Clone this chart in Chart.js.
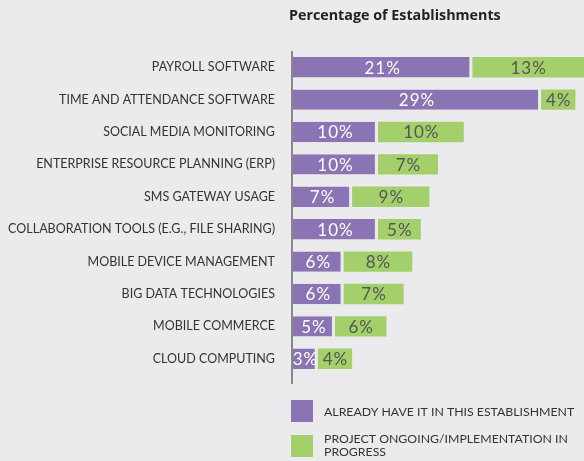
<!DOCTYPE html>
<html>
<head>
<meta charset="utf-8">
<script src="https://cdn.jsdelivr.net/npm/chart.js@4/dist/chart.umd.min.js"></script>
<style>
  html, body { margin: 0; padding: 0; background: #ebebed; }
  #wrap { width: 584px; height: 461px; position: relative; }
</style>
</head>
<body>
<div id="wrap"><canvas id="c" width="584" height="461"></canvas></div>
<script>
const categories = [
  "PAYROLL SOFTWARE",
  "TIME AND ATTENDANCE SOFTWARE",
  "SOCIAL MEDIA MONITORING",
  "ENTERPRISE RESOURCE PLANNING (ERP)",
  "SMS GATEWAY USAGE",
  "COLLABORATION TOOLS (E.G., FILE SHARING)",
  "MOBILE DEVICE MANAGEMENT",
  "BIG DATA TECHNOLOGIES",
  "MOBILE COMMERCE",
  "CLOUD COMPUTING"
];
const alreadyHave = [21, 29, 10, 10, 7, 10, 6, 6, 5, 3];
const inProgress = [13, 4, 10, 7, 9, 5, 8, 7, 6, 4];
const seriesNames = ["ALREADY HAVE IT IN THIS ESTABLISHMENT", "PROJECT ONGOING/IMPLEMENTATION IN PROGRESS"];
const legendLines = [["ALREADY HAVE IT IN THIS ESTABLISHMENT"], ["PROJECT ONGOING/IMPLEMENTATION IN", "PROGRESS"]];
const titleText = "Percentage of Establishments";

const BG = "#ebebed";
const PURPLE = "#8a74b3";
const GREEN = "#a3d06b";

const bgPlugin = {
  id: "bg",
  beforeDraw(chart) {
    const ctx = chart.ctx;
    ctx.save();
    ctx.fillStyle = BG;
    ctx.fillRect(0, 0, chart.width, chart.height);
    ctx.restore();
  }
};

const axisLinePlugin = {
  id: "axisLine",
  afterDatasetsDraw(chart) {
    const ctx = chart.ctx;
    const x = chart.chartArea.left;
    ctx.save();
    ctx.strokeStyle = "#888888";
    ctx.lineWidth = 2;
    ctx.beginPath();
    ctx.moveTo(x, chart.chartArea.top);
    ctx.lineTo(x, chart.chartArea.bottom + 9);
    ctx.stroke();
    ctx.restore();
  }
};

const labelPlugin = {
  id: "vals",
  afterDatasetsDraw(chart) {
    const ctx = chart.ctx;
    ctx.save();
    ctx.font = "17px Lato";
    try { ctx.letterSpacing = "1px"; } catch (e) {}
    ctx.textAlign = "center";
    ctx.textBaseline = "middle";
    chart.data.datasets.forEach((ds, di) => {
      const meta = chart.getDatasetMeta(di);
      meta.data.forEach((el, i) => {
        const left = Math.min(el.x, el.base);
        const right = Math.max(el.x, el.base);
        const cx = (left + right) / 2 + 0.5;
        ctx.fillStyle = di === 0 ? "#ffffff" : "#555555";
        ctx.fillText(ds.data[i] + "%", cx, el.y + 1);
      });
    });
    ctx.restore();
  }
};

const titleLegendPlugin = {
  id: "titleLegend",
  afterDraw(chart) {
    const ctx = chart.ctx;
    const left = chart.chartArea.left;
    ctx.save();
    ctx.fillStyle = "#222222";
    ctx.font = "bold 14.3px 'Open Sans'";
    ctx.textAlign = "left";
    ctx.textBaseline = "middle";
    ctx.fillText(titleText, left - 3, 16);

    const colors = [PURPLE, GREEN];
    const tops = [400, 435];
    ctx.font = "12.3px Lato";
    for (let k = 0; k < 2; k++) {
      ctx.fillStyle = colors[k];
      ctx.fillRect(left - 1, tops[k], 22, 22);
      ctx.fillStyle = "#333333";
      const lines = legendLines[k];
      lines.forEach((ln, j) => {
        ctx.fillText(ln, left + 32, tops[k] + (lines.length === 1 ? 12 : 4 + j * 13));
      });
    }
    ctx.restore();
  }
};

new Chart(document.getElementById("c"), {
  type: "bar",
  data: {
    labels: categories,
    datasets: [
      {
        label: seriesNames[0],
        data: alreadyHave,
        backgroundColor: PURPLE,
        borderColor: BG,
        borderWidth: { left: 0, right: 3, top: 0, bottom: 0 },
        borderSkipped: false,
        barPercentage: 0.63,
        categoryPercentage: 1
      },
      {
        label: seriesNames[1],
        data: inProgress,
        backgroundColor: GREEN,
        borderWidth: 0,
        barPercentage: 0.63,
        categoryPercentage: 1
      }
    ]
  },
  options: {
    indexAxis: "y",
    responsive: false,
    animation: false,
    layout: { padding: { top: 51, bottom: 86, right: 0, left: 0 } },
    plugins: {
      legend: { display: false },
      title: { display: false },
      tooltip: { enabled: false }
    },
    scales: {
      x: {
        stacked: true,
        display: false,
        min: 0,
        max: 34
      },
      y: {
        stacked: true,
        afterFit(scale) { scale.width = 292; },
        grid: { display: false, drawTicks: false },
        border: { display: false },
        ticks: {
          color: "#333333",
          font: { family: "Lato", size: 12.5 },
          padding: 17,
          autoSkip: false
        }
      }
    }
  },
  plugins: [bgPlugin, axisLinePlugin, labelPlugin, titleLegendPlugin]
});
</script>
</body>
</html>
